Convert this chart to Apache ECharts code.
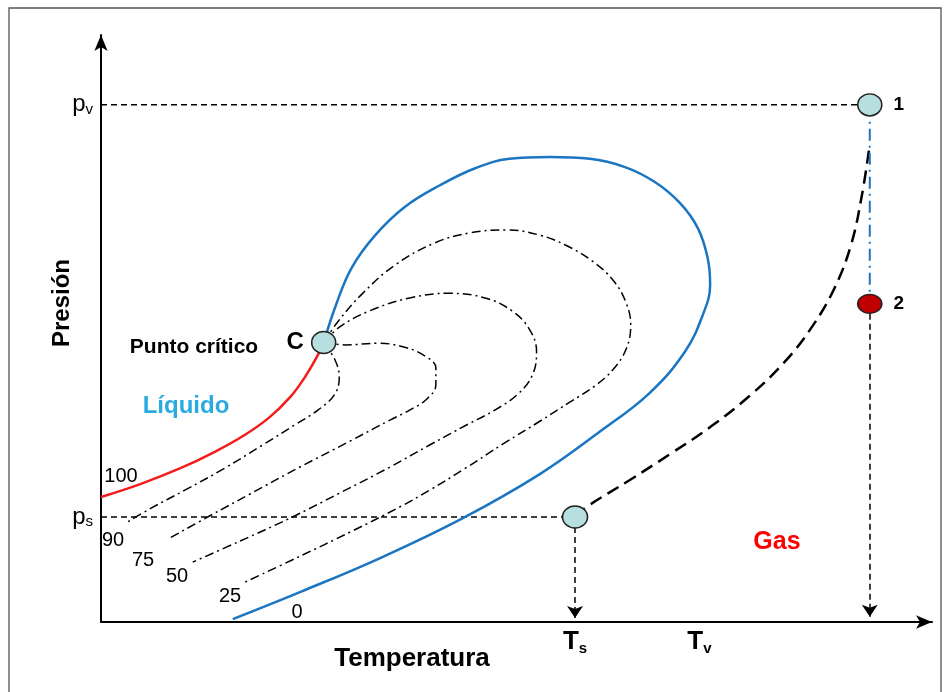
<!DOCTYPE html>
<html>
<head>
<meta charset="utf-8">
<script src="https://cdn.jsdelivr.net/npm/echarts@6/dist/echarts.min.js"></script>
<style>
  html, body { margin: 0; padding: 0; background: #fff; }
  #chart { width: 949px; height: 692px; }
</style>
</head>
<body>
<div id="chart"></div>
<script>
// Phase envelope of a mixture on a pressure–temperature diagram (arbitrary units).
const T_MAX = 101.5;
const P_MAX = 100;

// Axis marks
const pV = 88.1, pS = 17.9, tS = 57.9, tV = 73.1;
const presTicks = [pS, pV];
const presTickNames = ['s', 'v'];
const tempTicks = [tS, tV];
const tempTickNames = ['s', 'v'];

// Characteristic states
const critical = [27.2, 47.6];
const state1 = [93.9, pV];
const state2 = [93.9, 54.2];
const satState = [tS, pS];

// Bubble / dew envelope (outer branch is the 0 % liquid line)
const envelope = [
  [16.1, 0.5], [24.3, 5.1], [34.1, 10.9], [44.2, 17.7], [53.6, 25.2],
  [60.9, 32.4], [67.0, 39.0], [71.3, 46.0], [73.5, 52.3], [74.4, 57.4],
  [74.1, 62.0], [72.9, 67.1], [70.7, 71.4], [67.6, 75.0], [64.0, 77.5],
  [59.7, 78.9], [54.8, 79.2], [49.9, 78.9], [45.7, 77.3], [41.4, 74.4],
  [37.1, 70.7], [33.5, 65.9], [30.6, 60.3], [28.7, 54.0], [27.2, 47.6]
];

// 100 % liquid line
const liquid100 = [
  [0.0, 21.3], [4.8, 23.5], [9.7, 26.2], [13.9, 29.0], [17.6, 31.9],
  [20.6, 34.9], [23.1, 38.3], [24.9, 41.7], [26.5, 45.5], [27.2, 47.6]
];

// Iso-quality lines (% liquid)
const liquid90 = [
  [27.2, 47.6], [28.6, 44.6], [29.1, 41.6], [28.5, 38.7], [26.5, 36.1],
  [23.7, 33.6], [19.8, 30.2], [15.1, 26.2], [10.3, 22.5], [6.0, 19.3],
  [3.2, 17.0]
];
const liquid75 = [
  [27.2, 47.6], [29.9, 47.2], [33.8, 47.5], [37.1, 46.8], [39.6, 45.3],
  [40.9, 43.3], [40.9, 40.4], [39.8, 38.0], [37.7, 36.1], [35.3, 34.4],
  [30.4, 30.8], [24.3, 26.4], [18.2, 21.8], [13.3, 18.1], [8.4, 14.3]
];
const liquid50 = [
  [27.2, 47.6], [29.2, 50.3], [32.8, 53.0], [37.7, 55.2], [42.6, 56.0],
  [46.9, 55.2], [50.2, 53.0], [52.4, 49.7], [53.2, 46.0], [52.7, 42.1],
  [50.9, 38.8], [48.1, 36.1], [44.7, 33.6], [40.2, 30.2], [35.3, 26.4],
  [29.2, 22.0], [23.1, 17.7], [17.0, 13.8], [11.2, 10.2]
];
const liquid25 = [
  [27.2, 47.6], [28.9, 51.1], [31.9, 55.9], [35.9, 60.8], [40.8, 64.6],
  [45.1, 66.3], [49.6, 66.8], [53.6, 65.9], [56.9, 64.1], [60.0, 61.5],
  [62.5, 58.3], [64.1, 54.5], [64.7, 50.6], [64.2, 46.7], [62.6, 43.1],
  [60.3, 40.2], [57.3, 37.5], [53.6, 34.2], [49.3, 30.5], [44.4, 26.1],
  [40.2, 22.5], [36.5, 19.6], [30.4, 15.3], [24.3, 11.2], [17.3, 6.6]
];

// Gas path from the saturation point up to state 1
const vaporPath = [
  satState, [59.3, 19.6], [64.6, 24.2], [69.5, 28.6], [74.4, 33.2],
  [79.2, 38.5], [83.5, 44.3], [86.9, 50.4], [89.6, 56.9], [91.6, 64.2],
  [92.9, 72.4], [93.8, 80.4]
];

// Quality labels for the iso-lines
const qualityNames = ['100', '90', '75', '50', '25', '0'];

const BLUE = '#1a75c3';
const RED = '#f51c1c';
const FONT = '"Liberation Sans", Arial, sans-serif';

function curve(data, color, width, type) {
  return {
    type: 'line', data: data, smooth: 0.4, showSymbol: false, symbol: 'none',
    silent: true, z: 3,
    lineStyle: { color: color, width: width, type: type, cap: 'butt' }
  };
}

const dashDot = [9, 4, 2, 4];
const guideDash = [6, 4];

const chart = echarts.init(document.getElementById('chart'), null, { renderer: 'canvas' });

const qualityPos = [[121, 476], [113, 540], [143, 560], [177, 576], [230, 596], [297, 612]];

chart.setOption({
  animation: false,
  backgroundColor: '#fff',
  grid: { left: 101, right: 17, top: 35, bottom: 70, containLabel: false },
  xAxis: {
    type: 'value', min: 0, max: T_MAX,
    splitLine: { show: false },
    axisTick: { show: false },
    axisLine: { onZero: false, symbol: ['none', 'arrow'], symbolSize: [10, 16],
      lineStyle: { color: '#000', width: 2 } },
    axisLabel: {
      customValues: tempTicks,
      margin: 6,
      formatter: function (v) {
        const i = tempTicks.indexOf(v);
        return '{b|T}{s|' + tempTickNames[i] + '}';
      },
      rich: {
        b: { fontFamily: FONT, fontWeight: 'bold', fontSize: 26, color: '#000' },
        s: { fontFamily: FONT, fontWeight: 'bold', fontSize: 15, color: '#000', padding: [13, 0, 0, 0] }
      }
    }
  },
  yAxis: {
    type: 'value', min: 0, max: P_MAX,
    splitLine: { show: false },
    axisTick: { show: false },
    axisLine: { onZero: false, symbol: ['none', 'arrow'], symbolSize: [10, 16],
      lineStyle: { color: '#000', width: 2 } },
    axisLabel: {
      customValues: presTicks,
      margin: 8,
      formatter: function (v) {
        const i = presTicks.indexOf(v);
        return '{b|p}{s|' + presTickNames[i] + '}';
      },
      rich: {
        b: { fontFamily: FONT, fontSize: 24, color: '#000' },
        s: { fontFamily: FONT, fontSize: 15, color: '#000', padding: [10, 0, 0, 0] }
      }
    }
  },
  series: [
    curve(envelope, BLUE, 2.5, 'solid'),
    curve(liquid100, RED, 2.5, 'solid'),
    curve(liquid90, '#000', 1.5, dashDot),
    curve(liquid75, '#000', 1.5, dashDot),
    curve(liquid50, '#000', 1.5, dashDot),
    curve(liquid25, '#000', 1.5, dashDot),
    curve(vaporPath, '#000', 2.5, [13, 7]),
    // horizontal guides to the pressure axis
    { type: 'line', data: [[0, pV], state1], showSymbol: false, symbol: 'none', silent: true, z: 2,
      lineStyle: { color: '#000', width: 1.5, type: guideDash } },
    { type: 'line', data: [[0, pS], satState], showSymbol: false, symbol: 'none', silent: true, z: 2,
      lineStyle: { color: '#000', width: 1.5, type: guideDash } },
    // isothermal compression 1 -> 2
    { type: 'line', data: [state1, state2], showSymbol: false, symbol: 'none', silent: true, z: 3,
      lineStyle: { color: BLUE, width: 2, type: [12, 5, 2, 5] } },
    // projections down to the temperature axis
    { type: 'lines', coordinateSystem: 'cartesian2d', silent: true, z: 2,
      symbol: ['none', 'arrow'], symbolSize: [9, 12],
      lineStyle: { color: '#000', width: 1.5, type: guideDash, opacity: 1 },
      data: [
        { coords: [satState, [tS, 0.7]] },
        { coords: [state2, [state2[0], 0.9]] }
      ] },
    // state points
    { type: 'scatter', z: 10, silent: true,
      data: [
        { value: critical, symbolSize: [24, 22], itemStyle: { color: '#b8dfe0' },
          label: { show: true, position: 'left', distance: 7, formatter: 'C',
            fontFamily: FONT, fontWeight: 'bold', fontSize: 24, color: '#000' } },
        { value: state1, symbolSize: [24, 22], itemStyle: { color: '#b8dfe0' },
          label: { show: true, position: 'right', distance: 11, formatter: '1',
            fontFamily: FONT, fontWeight: 'bold', fontSize: 19, color: '#000', padding: [6, 0, 0, 0] } },
        { value: state2, symbolSize: [24, 19], itemStyle: { color: '#c00000' },
          label: { show: true, position: 'right', distance: 11, formatter: '2',
            fontFamily: FONT, fontWeight: 'bold', fontSize: 19, color: '#000' } },
        { value: satState, symbolSize: [25, 22], itemStyle: { color: '#b8dfe0' } }
      ],
      itemStyle: { borderColor: '#222', borderWidth: 1.5, opacity: 1 } }
  ],
  graphic: [
    { type: 'rect', shape: { x: 9, y: 8, width: 932, height: 700 }, silent: true, z: -1,
      style: { fill: 'none', stroke: '#555', lineWidth: 1.3 } },
    { type: 'text', x: 62, y: 303, rotation: Math.PI / 2, silent: true,
      style: { text: 'Presión', font: 'bold 24px ' + FONT, fill: '#000', align: 'center', verticalAlign: 'middle' } },
    { type: 'text', x: 412, y: 659, silent: true,
      style: { text: 'Temperatura', font: 'bold 26px ' + FONT, fill: '#000', align: 'center', verticalAlign: 'middle' } },
    { type: 'text', x: 194, y: 347, silent: true,
      style: { text: 'Punto crítico', font: 'bold 21px ' + FONT, fill: '#000', align: 'center', verticalAlign: 'middle' } },
    { type: 'text', x: 186, y: 406, silent: true,
      style: { text: 'Líquido', font: 'bold 24px ' + FONT, fill: '#29abe2', align: 'center', verticalAlign: 'middle' } },
    { type: 'text', x: 777, y: 542, silent: true,
      style: { text: 'Gas', font: 'bold 25px ' + FONT, fill: '#ff0000', align: 'center', verticalAlign: 'middle' } }
  ].concat(qualityNames.map(function (name, i) {
    return { type: 'text', x: qualityPos[i][0], y: qualityPos[i][1], silent: true,
      style: { text: name, font: '20px ' + FONT, fill: '#000', align: 'center', verticalAlign: 'middle' } };
  }))
});
</script>
</body>
</html>
